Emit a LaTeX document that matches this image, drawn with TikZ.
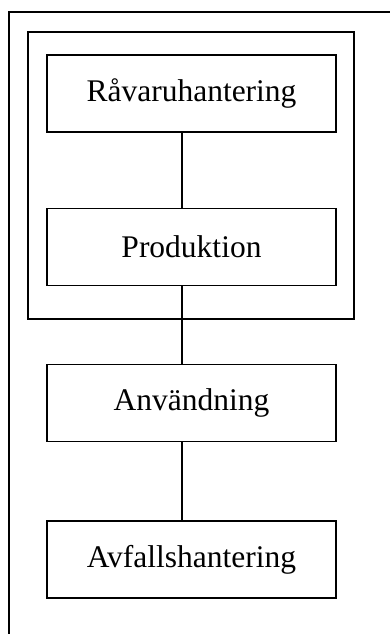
\documentclass[tikz,border=0pt]{standalone}
\usepackage{fontspec}
\setmainfont{Liberation Serif}
\begin{document}
\begin{tikzpicture}[x=1pt,y=-1pt,
  stagebox/.style={draw,line width=1.4pt,minimum width=289pt,minimum height=77pt,inner sep=0pt,font=\fontsize{31.5}{36}\selectfont},
  link/.style={line width=1.4pt}]
\useasboundingbox (0,0) rectangle (390,634);
\draw[line width=1.6pt] (9,634) -- (9,12) -- (390,12);
\draw[line width=1.4pt] (28,32) rectangle (354,319);
\node[stagebox] (r) at (191.5,93.5) {Råvaruhantering};
\node[stagebox] (p) at (191.5,247) {Produktion};
\node[stagebox] (a) at (191.5,403) {Användning};
\node[stagebox] (f) at (191.5,559.5) {Avfallshantering};
\draw[link] (r.south -| 182,0) -- (p.north -| 182,0);
\draw[link] (p.south -| 182,0) -- (a.north -| 182,0);
\draw[link] (a.south -| 182,0) -- (f.north -| 182,0);
\end{tikzpicture}
\end{document}
